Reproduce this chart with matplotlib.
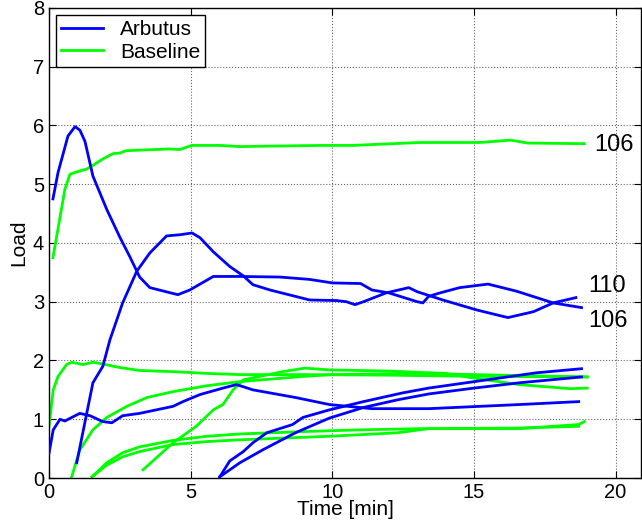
import matplotlib.pyplot as plt

plt.rcParams['font.family'] = ['Liberation Sans', 'DejaVu Sans']

# Arbutus runs (blue)
arb_a_t = [0.14, 0.32, 0.67, 0.92, 1.09, 1.27, 1.55, 2.04, 2.5, 2.86, 3.2, 3.56, 4.38, 4.55, 4.97,
           5.8, 6.74, 8.15, 9.2, 10.0, 11.0, 11.4, 12.0, 13.0, 13.2, 13.4, 13.8, 14.5, 15.5, 16.5,
           17.8, 18.8]
arb_a_y = [4.75, 5.2, 5.82, 5.98, 5.92, 5.73, 5.14, 4.57, 4.1, 3.76, 3.42, 3.24, 3.14, 3.12, 3.2,
           3.43, 3.43, 3.42, 3.38, 3.32, 3.31, 3.2, 3.15, 3.0, 2.98, 3.09, 3.15, 3.24, 3.3, 3.18,
           2.98, 2.9]

arb_b_t = [0.98, 1.55, 1.9, 2.15, 2.6, 3.1, 3.56, 4.15, 4.62, 5.05, 5.33, 5.8, 6.38, 6.86, 7.2,
           7.8, 9.2, 10.15, 10.5, 10.8, 11.1, 11.9, 12.7, 13.0, 13.9, 15.1, 16.2, 17.1, 17.8, 18.6]
arb_b_y = [0.26, 1.62, 1.9, 2.35, 2.98, 3.52, 3.83, 4.12, 4.14, 4.17, 4.09, 3.85, 3.6, 3.44, 3.29,
           3.2, 3.03, 3.02, 3.0, 2.95, 3.0, 3.15, 3.24, 3.17, 3.03, 2.86, 2.73, 2.83, 2.98, 3.07]

arb_c_t = [0.0, 0.15, 0.39, 0.56, 0.8, 1.09, 1.45, 1.9, 2.22, 2.6, 3.2, 4.38, 4.73, 5.33, 6.14,
           6.62, 7.2, 8.7, 9.9, 11.4, 13.4, 16.6, 18.7]
arb_c_y = [0.42, 0.82, 1.0, 0.97, 1.03, 1.1, 1.06, 0.96, 0.94, 1.06, 1.1, 1.22, 1.3, 1.42, 1.53,
           1.59, 1.5, 1.37, 1.25, 1.18, 1.18, 1.25, 1.3]

arb_d_t = [6.03, 6.38, 6.86, 7.2, 7.69, 8.6, 8.96, 9.9, 11.1, 12.5, 13.4, 15.3, 17.2, 18.8]
arb_d_y = [0.02, 0.29, 0.45, 0.6, 0.77, 0.91, 1.03, 1.16, 1.3, 1.45, 1.53, 1.66, 1.79, 1.86]

arb_e_t = [6.03, 6.74, 7.55, 8.7, 9.9, 11.1, 12.3, 13.4, 15.0, 16.6, 18.8]
arb_e_y = [0.02, 0.26, 0.48, 0.77, 1.02, 1.2, 1.33, 1.43, 1.53, 1.62, 1.72]

# Baseline runs (green)
base_a_t = [0.14, 0.56, 0.74, 0.98, 1.34, 1.55, 1.9, 2.26, 2.5, 2.72, 3.2, 4.27, 4.62, 5.04,
            6.03, 6.74, 8.0, 9.56, 10.7, 13.1, 15.2, 16.3, 16.9, 18.9]
base_a_y = [3.75, 4.91, 5.17, 5.21, 5.26, 5.32, 5.43, 5.52, 5.53, 5.57, 5.58, 5.6, 5.59, 5.66,
            5.66, 5.64, 5.65, 5.66, 5.66, 5.71, 5.71, 5.75, 5.7, 5.69]

base_b_t = [0.0, 0.15, 0.32, 0.62, 0.8, 1.2, 1.55, 1.9, 2.5, 3.2, 4.38, 5.57, 6.74, 9.0, 12.0,
            15.0, 19.0]
base_b_y = [0.88, 1.5, 1.73, 1.93, 1.97, 1.93, 1.97, 1.94, 1.88, 1.83, 1.81, 1.78, 1.76, 1.76,
            1.75, 1.73, 1.72]

base_c_t = [0.8, 1.09, 1.55, 2.04, 2.75, 3.46, 4.38, 5.57, 6.74, 9.0, 10.0, 13.0, 15.0, 17.0, 19.0]
base_c_y = [0.02, 0.48, 0.82, 1.03, 1.22, 1.37, 1.47, 1.57, 1.64, 1.73, 1.76, 1.78, 1.76, 1.74, 1.72]

base_d_t = [3.32, 4.38, 5.2, 5.8, 6.14, 6.5, 6.86, 7.55, 8.25, 9.03, 9.9, 12.0, 14.0, 15.0,
            16.6, 18.4, 19.0]
base_d_y = [0.14, 0.6, 0.88, 1.16, 1.25, 1.5, 1.67, 1.74, 1.81, 1.87, 1.84, 1.82, 1.78, 1.7,
            1.59, 1.52, 1.53]

base_e_t = [1.52, 2.04, 2.6, 3.2, 4.38, 5.57, 6.74, 9.0, 11.0, 13.1, 16.6, 18.7, 18.9]
base_e_y = [0.02, 0.26, 0.43, 0.53, 0.64, 0.71, 0.75, 0.79, 0.82, 0.84, 0.84, 0.91, 0.96]

base_f_t = [1.52, 2.04, 2.6, 3.2, 4.38, 5.57, 6.74, 9.9, 12.3, 13.4, 16.6, 18.7]
base_f_y = [0.02, 0.22, 0.36, 0.45, 0.57, 0.62, 0.65, 0.71, 0.77, 0.84, 0.85, 0.88]

labels = ['106', '110', '106']
label_pos = [(19.25, 5.66), (19.05, 3.26), (19.05, 2.68)]

fig = plt.figure(figsize=(6.42, 5.29), dpi=100)
ax = fig.add_axes([0.0763, 0.0964, 0.9222, 0.8886])

blue = '#0000ff'
green = '#00ff00'
lw = 2.0

arb = [(arb_a_t, arb_a_y), (arb_b_t, arb_b_y), (arb_c_t, arb_c_y), (arb_d_t, arb_d_y), (arb_e_t, arb_e_y)]
base = [(base_a_t, base_a_y), (base_b_t, base_b_y), (base_c_t, base_c_y), (base_d_t, base_d_y),
        (base_e_t, base_e_y), (base_f_t, base_f_y)]

for i, (t, y) in enumerate(arb):
    ax.plot(t, y, color=blue, lw=lw, zorder=3, label='Arbutus' if i == 0 else None)
for i, (t, y) in enumerate(base):
    ax.plot(t, y, color=green, lw=lw, zorder=2, label='Baseline' if i == 0 else None)

for txt, (x, y) in zip(labels, label_pos):
    ax.text(x, y, txt, fontsize=17, va='center', ha='left')

ax.set_xlim(0, 20.9)
ax.set_ylim(0, 8)
ax.set_xticks([0, 5, 10, 15, 20])
ax.set_yticks(range(9))
ax.tick_params(direction='in', top=True, right=True, labelsize=14.5, length=5, width=0.8)
ax.grid(True, linestyle=':', color='#666666', linewidth=0.8)
for s in ax.spines.values():
    s.set_linewidth(1.0)

ax.set_xlabel('Time [min]', fontsize=15, labelpad=-1)
ax.set_ylabel('Load', fontsize=15, labelpad=3)

leg = ax.legend(loc='upper left', fontsize=15, fancybox=False, framealpha=1,
                edgecolor='black', handlelength=2.0, borderaxespad=0.35,
                borderpad=0.25, labelspacing=0.15, handletextpad=0.8)
leg.get_frame().set_linewidth(1.0)

fig.savefig('out.png', dpi=100)
